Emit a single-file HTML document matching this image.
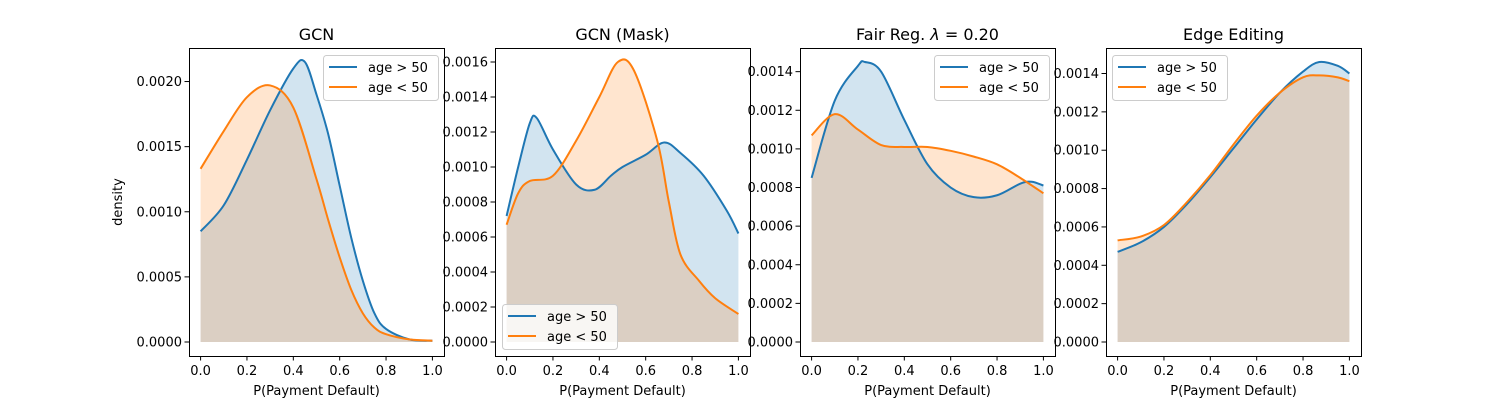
<!DOCTYPE html>
<html><head><meta charset="utf-8"><style>
html,body{margin:0;padding:0;background:#fff;}
svg text{font-family:"DejaVu Sans","Liberation Sans",sans-serif;fill:#000;}
</style></head><body>
<svg id="fig" width="1512" height="400" viewBox="0 0 1512 400" xmlns="http://www.w3.org/2000/svg"></svg>
<script>
const titles = ["GCN", "GCN (Mask)", "Fair Reg. λ = 0.20", "Edge Editing"];
const seriesNames = ["age > 50", "age < 50"];
const xTicks = [0, 0.2, 0.4, 0.6, 0.8, 1.0];
const yTicks1 = [0, 0.0005, 0.0010, 0.0015, 0.0020];
const yTicks2 = [0, 0.0002, 0.0004, 0.0006, 0.0008, 0.0010, 0.0012, 0.0014, 0.0016];
const yTicks3 = [0, 0.0002, 0.0004, 0.0006, 0.0008, 0.0010, 0.0012, 0.0014];
const yTicks4 = [0, 0.0002, 0.0004, 0.0006, 0.0008, 0.0010, 0.0012, 0.0014];
const yMax = [0.00215, 0.0016, 0.00145, 0.00146];
const legendPos = ["ur", "ll", "ur", "ul"];
// panel data: x positions and density values
const x1b = [0,0.1,0.2,0.3,0.4,0.45,0.5,0.55,0.6,0.65,0.7,0.75,0.8,0.9,1.0];
const y1b = [0.00085,0.00105,0.0014,0.00178,0.0021,0.00215,0.0019,0.0016,0.0012,0.0008,0.00047,0.00022,0.0001,0.00002,0.00001];
const x1o = [0,0.1,0.2,0.3,0.4,0.5,0.55,0.6,0.65,0.7,0.75,0.8,0.9,1.0];
const y1o = [0.00133,0.00162,0.00188,0.00197,0.0018,0.00125,0.00094,0.00065,0.0004,0.00022,0.00011,0.00006,0.00002,0.00001];
const x2b = [0,0.05,0.1,0.13,0.2,0.3,0.38,0.45,0.5,0.6,0.68,0.75,0.85,0.95,1.0];
const y2b = [0.00072,0.001,0.00125,0.00128,0.0011,0.0009,0.00087,0.00095,0.001,0.00107,0.00114,0.00108,0.00095,0.00075,0.00062];
const x2o = [0,0.05,0.1,0.2,0.3,0.4,0.48,0.55,0.65,0.7,0.75,0.83,0.9,1.0];
const y2o = [0.00067,0.00085,0.00092,0.00095,0.00115,0.0014,0.0016,0.00155,0.00115,0.0008,0.0005,0.00035,0.00025,0.00016];
const x3b = [0,0.1,0.2,0.23,0.3,0.4,0.5,0.6,0.7,0.8,0.9,0.95,1.0];
const y3b = [0.00085,0.00125,0.00143,0.00145,0.0014,0.00115,0.00092,0.0008,0.00075,0.00076,0.00082,0.00083,0.00081];
const x3o = [0,0.1,0.2,0.3,0.4,0.5,0.6,0.7,0.8,0.9,1.0];
const y3o = [0.00107,0.00118,0.0011,0.00102,0.00101,0.00101,0.00099,0.00096,0.00092,0.00085,0.00077];
const x4b = [0,0.1,0.2,0.3,0.4,0.5,0.6,0.7,0.8,0.87,0.95,1.0];
const y4b = [0.00047,0.00052,0.0006,0.00072,0.00086,0.00101,0.00116,0.0013,0.00141,0.00146,0.00144,0.0014];
const x4o = [0,0.1,0.2,0.3,0.4,0.5,0.6,0.7,0.8,0.87,0.95,1.0];
const y4o = [0.00053,0.00055,0.00061,0.00073,0.00087,0.00103,0.00118,0.0013,0.00138,0.00139,0.00138,0.00136];

const panels = [
  {xb:x1b,yb:y1b,xo:x1o,yo:y1o,ticks:yTicks1},
  {xb:x2b,yb:y2b,xo:x2o,yo:y2o,ticks:yTicks2},
  {xb:x3b,yb:y3b,xo:x3o,yo:y3o,ticks:yTicks3},
  {xb:x4b,yb:y4b,xo:x4o,yo:y4o,ticks:yTicks4}
];
const lefts = [189, 495, 800, 1106];
const W = 255, TOP = 48, BOT = 356;
const BLUE = "#1f77b4", ORANGE = "#ff7f0e";
const NS = "http://www.w3.org/2000/svg";
const svg = document.getElementById("fig");
function mk(tag, attrs, parent) {
  const e = document.createElementNS(NS, tag);
  for (const k in attrs) e.setAttribute(k, attrs[k]);
  (parent || svg).appendChild(e);
  return e;
}
function smoothPath(pts) {
  let d = "M" + pts[0][0].toFixed(2) + "," + pts[0][1].toFixed(2);
  for (let i = 0; i < pts.length - 1; i++) {
    const p0 = pts[Math.max(0, i - 1)], p1 = pts[i], p2 = pts[i + 1], p3 = pts[Math.min(pts.length - 1, i + 2)];
    const c1x = p1[0] + (p2[0] - p0[0]) / 6, c1y = p1[1] + (p2[1] - p0[1]) / 6;
    const c2x = p2[0] - (p3[0] - p1[0]) / 6, c2y = p2[1] - (p3[1] - p1[1]) / 6;
    d += "C" + c1x.toFixed(2) + "," + c1y.toFixed(2) + " " + c2x.toFixed(2) + "," + c2y.toFixed(2) + " " + p2[0].toFixed(2) + "," + p2[1].toFixed(2);
  }
  return d;
}
panels.forEach((p, i) => {
  const L = lefts[i];
  const g = mk("g", {});
  
  
  const xs = v => L + (v + 0.05) / 1.1 * W;
  const ymin = -0.05 * yMax[i], ymax = 1.05 * yMax[i];
  const ys = v => BOT - (v - ymin) / (ymax - ymin) * (BOT - TOP);
  [[p.xb, p.yb, BLUE, 'blue'], [p.xo, p.yo, ORANGE, 'orange']].forEach(([xa, ya, col, nm]) => {
    const pts = xa.map((x, k) => [xs(x), ys(ya[k])]);
    const line = smoothPath(pts);
    const fill = mk("path", {d: line + "L" + xs(xa[xa.length-1]) + "," + ys(0) + "L" + xs(xa[0]) + "," + ys(0) + "Z", fill: col, "fill-opacity": 0.2, stroke: "none"}, g);
    
    
    p['line' + nm] = line;
  });
  [['lineblue', BLUE, 'blue'], ['lineorange', ORANGE, 'orange']].forEach(([k, col, nm]) => {
    const l = mk("path", {d: p[k], fill: "none", stroke: col, "stroke-width": 2}, g);
    
    
  });
  const frame = mk("rect", {x: L + 0.5, y: TOP + 0.5, width: W, height: BOT - TOP, fill: "none", stroke: "#000", "stroke-width": 1}, g);
  
  
  xTicks.forEach(t => {
    const x = xs(t);
    mk("line", {x1: x, x2: x, y1: BOT, y2: BOT + 4.5, stroke: "#000", "stroke-width": 1}, g);
    const tx = mk("text", {x: x, y: BOT + 19, "font-size": 13, "text-anchor": "middle"}, g);
    tx.textContent = t.toFixed(1);
    
    
  });
  p.ticks.forEach(t => {
    const y = ys(t);
    mk("line", {x1: L - 4.5, x2: L, y1: y, y2: y, stroke: "#000", "stroke-width": 1}, g);
    const ty = mk("text", {x: L - 7, y: y + 4.5, "font-size": 13, "text-anchor": "end"}, g);
    ty.textContent = t.toFixed(4);
    
    
  });
  const xl = mk("text", {x: L + W / 2, y: 395, "font-size": 13, "text-anchor": "middle"}, g);
  xl.textContent = "P(Payment Default)";
  
  
  const tt = mk("text", {x: L + W / 2, y: 40, "font-size": 16, "text-anchor": "middle"}, g);
  if (i === 2) {
    tt.innerHTML = 'Fair Reg. <tspan font-style="italic">λ</tspan> = 0.20';
  } else tt.textContent = titles[i];
  
  
  // legend
  const lw = 115, lh = 45;
  let lx, ly;
  if (legendPos[i] === "ur") { lx = L + W - 6 - lw; ly = TOP + 7; }
  else if (legendPos[i] === "ul") { lx = L + 6; ly = TOP + 7; }
  else { lx = L + 7; ly = BOT - 7 - lh; }
  const lg = mk("g", {}, g);
  
  
  mk("rect", {x: lx + 0.5, y: ly + 0.5, width: lw, height: lh, rx: 3, fill: "#fff", "fill-opacity": 0.8, stroke: "#ccc", "stroke-width": 1}, lg);
  seriesNames.forEach((s, k) => {
    const yy = ly + 12 + k * 20;
    mk("line", {x1: lx + 6, x2: lx + 34, y1: yy, y2: yy, stroke: k ? ORANGE : BLUE, "stroke-width": 2}, lg);
    const lt = mk("text", {x: lx + 45, y: yy + 5, "font-size": 13}, lg);
    lt.textContent = s;
    
    
  });
});
const yl = mk("text", {x: 122, y: 202, "font-size": 13, "text-anchor": "middle", transform: "rotate(-90 122 202)"});
yl.textContent = "density";


</script>
</body></html>
